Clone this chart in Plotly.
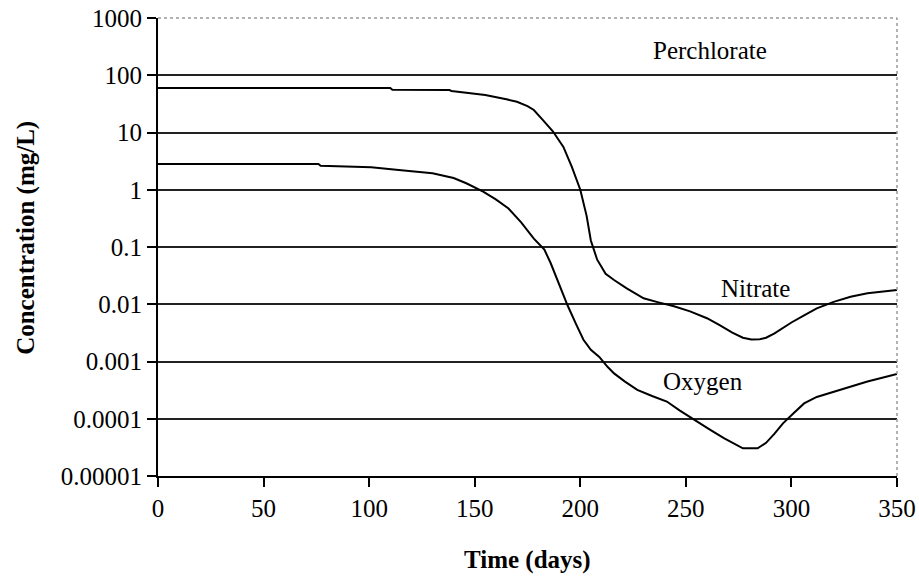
import math
import plotly.graph_objects as go

nitrate_days = [0, 110, 111, 138, 139, 155, 165, 170, 175, 178, 182, 185, 187, 192, 196, 200, 203, 205, 208,
                212, 216, 222, 230, 237, 244, 252, 260, 266, 272, 277, 281, 285, 288, 292, 296, 300, 306,
                312, 320, 328, 336, 343, 350]
nitrate = [60, 60, 56, 55, 53, 45, 38, 34.5, 29, 24.7, 17, 12.6, 10.5, 5.6, 2.5, 1.0, 0.35, 0.13, 0.06,
           0.034, 0.0265, 0.019, 0.0127, 0.0108, 0.0093, 0.0075, 0.0057, 0.0043, 0.0032, 0.0026, 0.00242,
           0.00245, 0.0026, 0.0031, 0.0039, 0.0048, 0.0064, 0.0085, 0.011, 0.0135, 0.0155, 0.0168, 0.0178]

oxygen_days = [0, 76, 77, 100, 101, 114, 130, 140, 146, 154, 160, 166, 172, 178, 183, 186, 190, 194, 198,
               201.5, 205, 209, 213, 216, 221, 227, 234, 241, 247, 254, 261, 268, 273, 277, 284, 288, 292,
               296, 301, 306, 312, 320, 328, 336, 343, 350]
oxygen = [2.82, 2.82, 2.63, 2.5, 2.47, 2.21, 1.94, 1.6, 1.3, 0.93, 0.68, 0.47, 0.27, 0.14, 0.09, 0.052,
          0.022, 0.0095, 0.0045, 0.0024, 0.0016, 0.0012, 0.0008, 0.00062, 0.00045, 0.00032, 0.00025,
          0.0002, 0.00014, 0.000095, 0.000066, 0.000046, 0.000036, 0.0000305, 0.0000305, 0.000038,
          0.000055, 0.000083, 0.000125, 0.000185, 0.00024, 0.000297, 0.00037, 0.000446, 0.00052, 0.000605]

y_tickvals = [1e-5, 1e-4, 1e-3, 1e-2, 1e-1, 1, 10, 100, 1000]
y_ticktext = ["0.00001", "0.0001", "0.001", "0.01", "0.1", "1", "10", "100", "1000"]
x_tickvals = [0, 50, 100, 150, 200, 250, 300, 350]

labels = ["Perchlorate", "Nitrate", "Oxygen"]
label_x = [261.5, 282.8, 258.3]
label_y = [275, 0.019, 0.000447]

FONT = "Liberation Serif, Times New Roman, serif"

fig = go.Figure()
fig.add_trace(go.Scatter(x=nitrate_days, y=nitrate, mode="lines", line=dict(color="black", width=2),
                         name="Nitrate", showlegend=False))
fig.add_trace(go.Scatter(x=oxygen_days, y=oxygen, mode="lines", line=dict(color="black", width=2),
                         name="Oxygen", showlegend=False))

for t, xv, yv in zip(labels, label_x, label_y):
    fig.add_annotation(x=xv, y=math.log10(yv), yref="y", xref="x", text=t, showarrow=False,
                       font=dict(family=FONT, size=25, color="black"))

# axis titles
fig.add_annotation(xref="paper", yref="paper", x=0.5, y=-0.1834, text="<b>Time (days)</b>",
                   showarrow=False, xanchor="center", yanchor="middle",
                   font=dict(family=FONT, size=25, color="black"))
fig.add_annotation(xref="paper", yref="paper", x=(26 - 158) / 739, y=0.52, text="<b>Concentration (mg/L)</b>",
                   showarrow=False, xanchor="center", yanchor="middle", textangle=-90,
                   font=dict(family=FONT, size=25, color="black"))

# top and right frame (light gray)
fig.add_shape(type="line", xref="paper", yref="paper", x0=0, x1=1, y0=1, y1=1,
              line=dict(color="#999999", width=1.5, dash="dot"))
fig.add_shape(type="line", xref="paper", yref="paper", x0=1, x1=1, y0=0, y1=1,
              line=dict(color="#999999", width=1.5, dash="dot"))

fig.update_layout(
    width=919, height=578,
    margin=dict(l=158, r=22, t=18, b=102, autoexpand=False),
    paper_bgcolor="white", plot_bgcolor="white",
    font=dict(family=FONT, size=25, color="black"),
    showlegend=False,
)
fig.update_xaxes(
    range=[0, 350], tickvals=x_tickvals, ticks="outside", ticklen=9, tickwidth=2, tickcolor="black",
    showline=True, linecolor="black", linewidth=2, showgrid=False, zeroline=False, automargin=False,
    tickfont=dict(family=FONT, size=25),
)
fig.update_yaxes(
    type="log", range=[-5, 3], tickvals=y_tickvals, ticktext=y_ticktext, ticks="outside", ticklen=9,
    tickwidth=2, tickcolor="black", showline=True, linecolor="black", linewidth=2, automargin=False,
    showgrid=True, gridcolor="#222222", gridwidth=1.5, zeroline=False,
    tickfont=dict(family=FONT, size=25),
)

fig.write_html("out.html", config={"displayModeBar": False},
               post_script="document.body.style.margin='0';document.body.style.overflow='hidden';")
